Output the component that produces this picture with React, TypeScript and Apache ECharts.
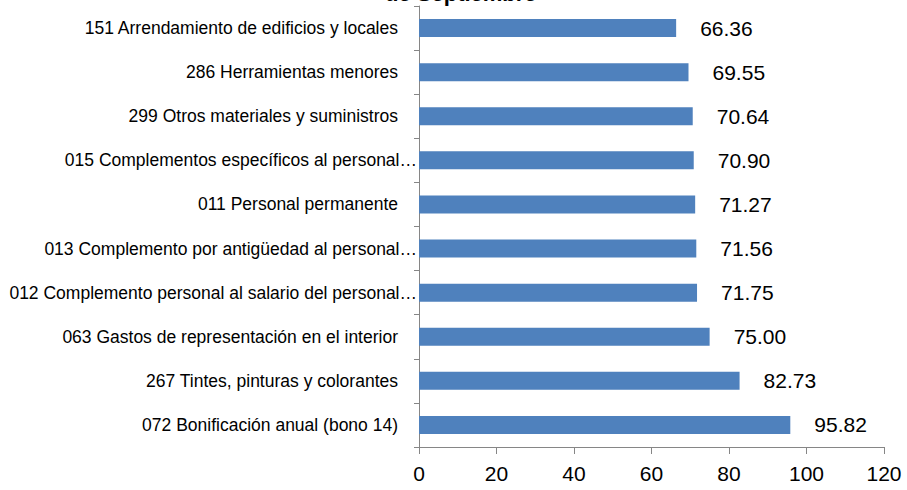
import React, { useEffect, useRef } from "react";
import * as echarts from "echarts";

const categories = [
  "151 Arrendamiento de edificios y locales",
  "286 Herramientas menores",
  "299 Otros materiales y suministros",
  "015 Complementos específicos al personal…",
  "011 Personal permanente",
  "013 Complemento por antigüedad al personal…",
  "012 Complemento personal al salario del personal…",
  "063 Gastos de representación en el interior",
  "267 Tintes, pinturas y colorantes",
  "072 Bonificación anual (bono 14)",
];
const values = [66.36, 69.55, 70.64, 70.9, 71.27, 71.56, 71.75, 75.0, 82.73, 95.82];
const titleText = "de Septiembre";
const xMin = 0;
const xMax = 120;
const xInterval = 20;

export default function App() {
  const ref = useRef<HTMLDivElement>(null);
  useEffect(() => {
    const chart = echarts.init(ref.current!, null, { renderer: "svg" });
    chart.setOption({
      animation: false,
      graphic: [
        {
          type: "text",
          left: 385,
          top: -18,
          style: {
            text: titleText,
            font: "bold 22px 'Liberation Sans'",
            fill: "#000",
          },
        },
      ],
      grid: { left: 419, right: 23, top: 6, bottom: 43, containLabel: false },
      xAxis: {
        type: "value",
        min: xMin,
        max: xMax,
        interval: xInterval,
        splitLine: { show: false },
        axisLine: { show: true, lineStyle: { color: "#868686", width: 1 } },
        axisTick: { show: true, length: 7, lineStyle: { color: "#868686" } },
        axisLabel: {
          color: "#000",
          fontFamily: "Liberation Sans",
          fontSize: 21,
          margin: 16,
        },
      },
      yAxis: {
        type: "category",
        data: categories,
        inverse: true,
        axisLine: { show: true, lineStyle: { color: "#868686", width: 1 } },
        axisTick: { show: true, length: 5, lineStyle: { color: "#868686" } },
        axisLabel: {
          color: "#000",
          fontFamily: "Liberation Sans",
          fontSize: 17.5,
          margin: 2,
          formatter: (v: string) =>
            v.endsWith("…") ? v : "{p|" + v + "}",
          rich: {
            p: {
              fontFamily: "Liberation Sans",
              fontSize: 17.5,
              color: "#000",
              padding: [0, 19, 0, 0],
            },
          },
        },
      },
      series: [
        {
          type: "bar",
          data: values,
          barWidth: 18,
          itemStyle: { color: "#4F81BD" },
          label: {
            show: true,
            position: "right",
            distance: 24,
            color: "#000",
            fontFamily: "Liberation Sans",
            fontSize: 21,
            formatter: (p: any) => Number(p.value).toFixed(2),
          },
        },
      ],
    });
    return () => chart.dispose();
  }, []);
  return <div ref={ref} style={{ width: 907, height: 490, position: "absolute", left: 0, top: 0 }} />;
}
